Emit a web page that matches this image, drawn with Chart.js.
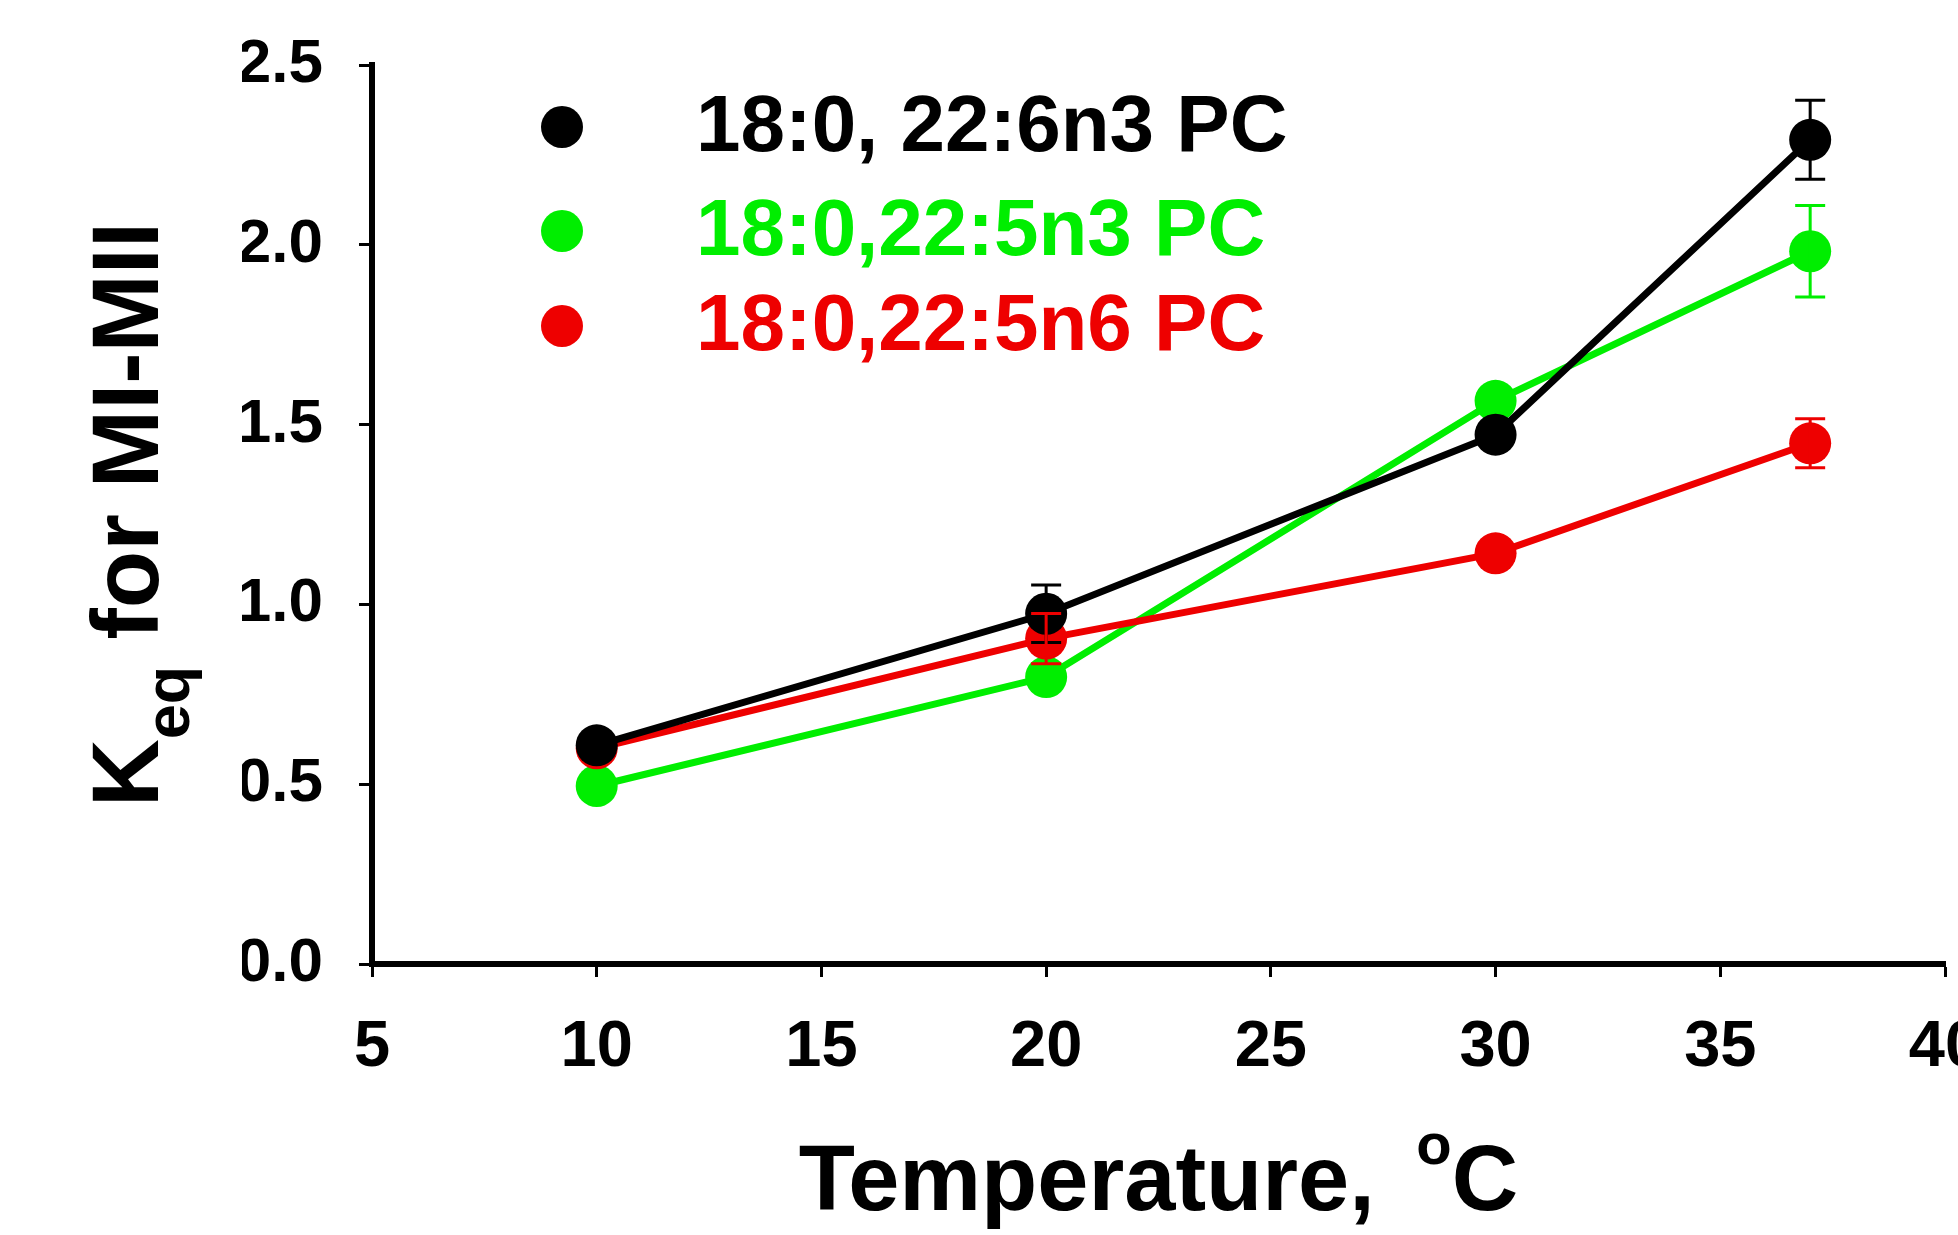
<!DOCTYPE html>
<html>
<head>
<meta charset="utf-8">
<script src="https://cdn.jsdelivr.net/npm/chart.js@4/dist/chart.umd.min.js"></script>
<style>
  html, body { margin: 0; padding: 0; background: #fff; overflow: hidden; }
  canvas { display: block; }
</style>
</head>
<body>
<canvas id="graficoKeq" width="1966" height="1235"></canvas>
<script>
// datos
const temperaturas = [10, 20, 30, 37];
const etiquetas = ['18:0, 22:6n3 PC', '18:0,22:5n3 PC', '18:0,22:5n6 PC'];
const colores = ['#000000', '#00ee00', '#ee0000'];

const keq226n3 = [0.608, 0.974, 1.472, 2.292];
const keq225n3 = [0.495, 0.798, 1.566, 1.982];
const keq225n6 = [0.600, 0.905, 1.142, 1.448];

const err226n3 = [0, 0.08, 0, 0.11];
const err225n3 = [0, 0.02, 0, 0.127];
const err225n6 = [0, 0.07, 0, 0.068];

const ticksY = [0, 0.5, 1.0, 1.5, 2.0, 2.5];
const ticksX = [5, 10, 15, 20, 25, 30, 35, 40];

const series = [keq226n3, keq225n3, keq225n6];
const errores = [err226n3, err225n3, err225n6];
const orden = [0, 2, 1]; // negro arriba, luego rojo, verde abajo

const FUENTE = '"Liberation Sans", Arial, sans-serif';
Chart.defaults.font.family = FUENTE;
Chart.defaults.font.weight = 'bold';
Chart.defaults.color = '#000';

// barras de error
const barrasError = {
  id: 'barrasError',
  afterDatasetsDraw(chart) {
    const ctx = chart.ctx;
    const x = chart.scales.x, y = chart.scales.y;
    ctx.save();
    chart.data.datasets.forEach((ds, i) => {
      ctx.strokeStyle = colores[i];
      ctx.lineWidth = 3;
      ds.data.forEach((p, j) => {
        const e = errores[i][j];
        if (!e) return;
        const px = x.getPixelForValue(p.x);
        const top = y.getPixelForValue(p.y + e);
        const bot = y.getPixelForValue(p.y - e);
        ctx.beginPath();
        ctx.moveTo(px, top); ctx.lineTo(px, bot);
        ctx.moveTo(px - 15, top); ctx.lineTo(px + 15, top);
        ctx.moveTo(px - 15, bot); ctx.lineTo(px + 15, bot);
        ctx.stroke();
      });
    });
    ctx.restore();
  }
};

// leyenda dentro del area, con texto de color
const leyenda = {
  id: 'leyenda',
  afterDraw(chart) {
    const ctx = chart.ctx;
    const a = chart.chartArea;
    const filas = [62, 166, 261];
    ctx.save();
    ctx.font = 'bold 80px ' + FUENTE;
    ctx.textBaseline = 'middle';
    ctx.textAlign = 'left';
    etiquetas.forEach((t, i) => {
      const cy = a.top + filas[i];
      ctx.fillStyle = colores[i];
      ctx.beginPath();
      ctx.arc(a.left + 190, cy, 21, 0, Math.PI * 2);
      ctx.fill();
      ctx.fillText(t, a.left + 324, cy + 2);
    });
    ctx.restore();
  }
};

// titulos de los ejes (subindice en K, superindice en o)
const titulos = {
  id: 'titulos',
  afterDraw(chart) {
    const ctx = chart.ctx;
    const a = chart.chartArea;
    const grande = 'bold 94px ' + FUENTE;
    const chico = 'bold 63px ' + FUENTE;
    ctx.save();
    ctx.fillStyle = '#000';
    ctx.textBaseline = 'alphabetic';
    ctx.textAlign = 'left';

    // eje Y
    ctx.save();
    ctx.translate(a.left - 214, (a.top + a.bottom) / 2);
    ctx.rotate(-Math.PI / 2);
    ctx.font = grande;
    const wK = ctx.measureText('K').width;
    const wResto = ctx.measureText(' for MI-MII').width;
    ctx.font = chico;
    const wSub = ctx.measureText('eq').width;
    let x0 = -(wK + wSub + wResto) / 2;
    ctx.font = grande;
    ctx.fillText('K', x0, 0);
    ctx.font = chico;
    ctx.fillText('eq', x0 + wK, 31);
    ctx.font = grande;
    ctx.fillText(' for MI-MII', x0 + wK + wSub, 0);
    ctx.restore();

    // eje X
    const gx = 'bold 92px ' + FUENTE;
    const sx = 'bold 58px ' + FUENTE;
    ctx.font = gx;
    const w1 = ctx.measureText('Temperature, ').width;
    const w3 = ctx.measureText('C').width;
    ctx.font = sx;
    const w2 = ctx.measureText('o').width;
    const gap = 16;
    const base = a.bottom + 246;
    let xs = (a.left + a.right) / 2 - (w1 + gap + w2 + w3) / 2;
    ctx.font = gx;
    ctx.fillText('Temperature, ', xs, base);
    ctx.font = sx;
    ctx.fillText('o', xs + w1 + gap, base - 46);
    ctx.font = gx;
    ctx.fillText('C', xs + w1 + gap + w2, base);
    ctx.restore();
  }
};

const ctx = document.getElementById('graficoKeq').getContext('2d');
new Chart(ctx, {
  type: 'line',
  data: {
    datasets: series.map((s, i) => ({
      label: etiquetas[i],
      data: temperaturas.map((t, j) => ({ x: t, y: s[j] })),
      borderColor: colores[i],
      backgroundColor: colores[i],
      borderWidth: 7,
      pointRadius: 21,
      pointBorderWidth: 0,
      pointBackgroundColor: colores[i],
      order: orden[i],
      tension: 0,
      fill: false
    }))
  },
  options: {
    responsive: false,
    animation: false,
    devicePixelRatio: 1,
    layout: { padding: { left: 242, right: 5, top: 65, bottom: 0 } },
    plugins: {
      legend: { display: false },
      tooltip: { enabled: false }
    },
    scales: {
      x: {
        type: 'linear',
        min: 5,
        max: 40,
        afterBuildTicks: (s) => { s.ticks = ticksX.map(v => ({ value: v })); },
        afterFit: (s) => { s.paddingRight = 0; s.height = 271; },
        ticks: {
          font: { size: 65, weight: 'bold' },
          color: '#000',
          padding: 32
        },
        grid: {
          drawOnChartArea: false,
          drawTicks: true,
          tickLength: 13,
          tickWidth: 3,
          tickColor: '#000'
        },
        border: { display: true, color: '#000', width: 6 }
      },
      y: {
        min: 0,
        max: 2.5,
        afterBuildTicks: (s) => { s.ticks = ticksY.map(v => ({ value: v })); },
        afterFit: (s) => { s.width = 130; s.paddingTop = 0; s.paddingBottom = 0; },
        ticks: {
          font: { size: 62, weight: 'bold' },
          color: '#000',
          padding: 36,
          callback: (v) => Number(v).toFixed(1)
        },
        grid: {
          drawOnChartArea: false,
          drawTicks: true,
          tickLength: 13,
          tickWidth: 3,
          tickColor: '#000'
        },
        border: { display: true, color: '#000', width: 6 }
      }
    }
  },
  plugins: [barrasError, leyenda, titulos]
});
</script>
</body>
</html>
